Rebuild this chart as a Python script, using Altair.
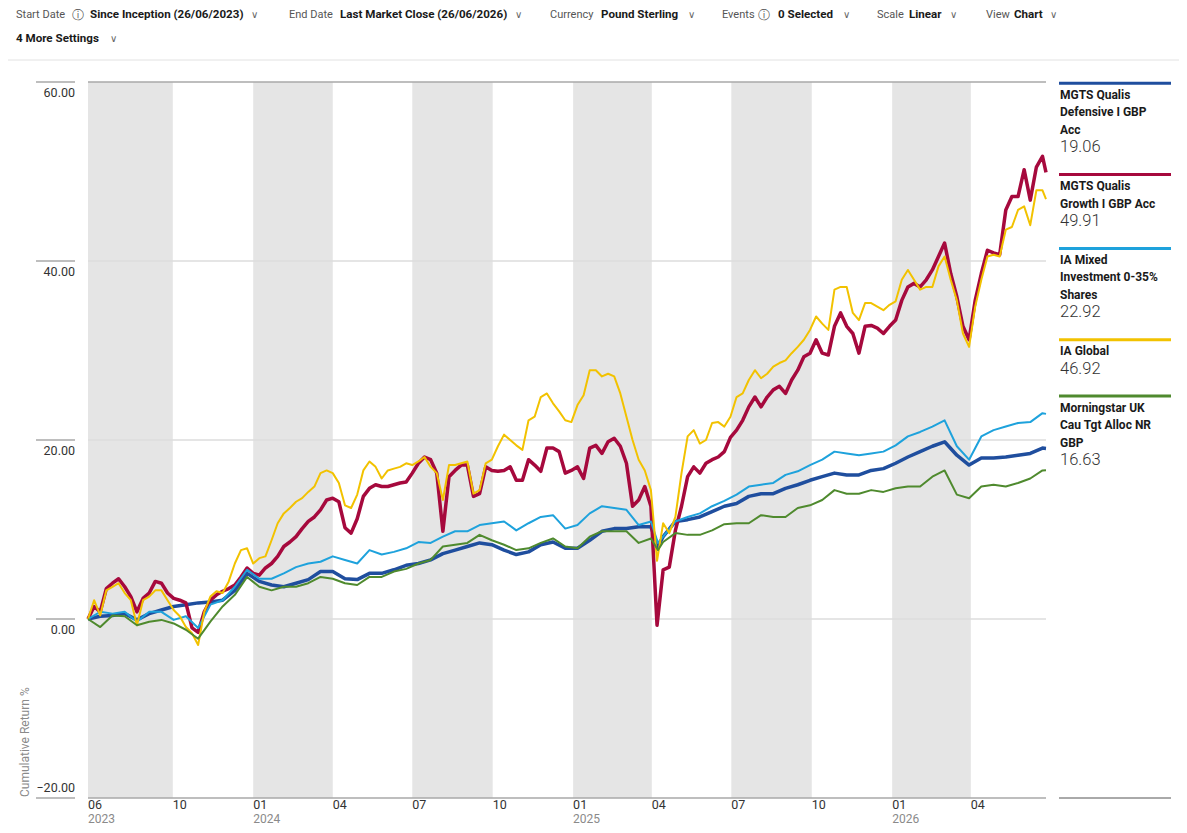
import altair as alt
import pandas as pd

# ---------------- data ----------------
SERIES = [
    "MGTS Qualis Defensive I GBP Acc",
    "MGTS Qualis Growth I GBP Acc",
    "IA Mixed Investment 0-35% Shares",
    "IA Global",
    "Morningstar UK Cau Tgt Alloc NR GBP",
]
LEGEND_LINES = [
    ["MGTS Qualis", "Defensive I GBP", "Acc"],
    ["MGTS Qualis", "Growth I GBP Acc"],
    ["IA Mixed", "Investment 0-35%", "Shares"],
    ["IA Global"],
    ["Morningstar UK", "Cau Tgt Alloc NR", "GBP"],
]
COLORS = ["#1f4e9e", "#a6093d", "#1ea2dc", "#f2c200", "#4f8a2e"]
WIDTHS = [3.5, 3.5, 2, 2, 2]

# fortnightly dates (+ the 8 Apr 2025 low and the last close)
b14 = pd.date_range("2023-06-26", periods=79, freq="14D")
DATES_2W = ([d.strftime("%Y-%m-%d") for d in b14[:47]] + ["2025-04-08"]
            + [d.strftime("%Y-%m-%d") for d in b14[47:]] + ["2026-06-26"])
# weekly dates (+ the last close)
b7 = pd.date_range("2023-06-26", periods=157, freq="7D")
DATES_1W = [d.strftime("%Y-%m-%d") for d in b7] + ["2026-06-26"]

DEFENSIVE = [0.0, 0.3, 0.4, 0.6, -0.1, 0.6, 1.0, 1.4, 1.6, 1.8,
             1.9, 2.1, 3.2, 5.1, 4.2, 3.8, 3.6, 4.0, 4.4, 5.3,
             5.3, 4.5, 4.4, 5.1, 5.1, 5.5, 6.0, 6.2, 6.6, 7.3,
             7.7, 8.1, 8.5, 8.3, 7.7, 7.2, 7.5, 8.3, 8.6, 7.9,
             7.9, 8.8, 9.8, 10.1, 10.1, 10.3, 10.3,
             8.1,
             9.2, 10.9, 11.1, 11.4, 12.0, 12.6, 12.9, 13.7, 14.0, 14.0,
             14.6, 15.0, 15.5, 15.9, 16.3, 16.1, 16.1, 16.6, 16.8, 17.4,
             18.1, 18.7, 19.3, 19.8, 18.3, 17.2, 18.0, 18.0, 18.1, 18.3, 18.5, 19.1,
             19.06]
GROWTH = [0.0, 1.4, 0.8, 3.4, 4.0, 4.5, 3.6, 2.5, 0.8, 2.3, 2.9, 4.2, 4.0, 2.9, 2.3, 2.1, 1.8, -1.0, -1.5, 0.8,
          2.1, 2.7, 3.1, 3.4, 3.8, 4.7, 5.7, 5.1, 4.9, 5.7, 6.2, 7.0, 8.1, 8.6, 9.2, 10.1, 10.9, 11.4, 12.2, 13.3,
          13.5, 13.1, 10.2, 9.6, 11.2, 13.7, 14.6, 15.0, 14.8, 14.8, 15.0, 15.2, 15.3, 16.3, 17.4, 18.1, 17.8, 16.3, 9.8, 15.9,
          16.6, 17.2, 17.2, 13.7, 14.0, 17.0, 16.6, 16.5, 16.6, 17.0, 15.5, 15.5, 17.8, 17.2, 16.5, 19.1, 19.1, 18.7, 16.3, 16.6,
          17.0, 15.7, 19.1, 19.4, 18.5, 19.8, 20.2, 19.3, 17.4, 12.6, 13.3, 14.8, 12.6, -0.7, 5.5, 5.8, 9.9, 12.6, 15.9, 17.0,
          16.3, 17.4, 17.8, 18.1, 18.7, 20.3, 21.1, 22.2, 23.7, 24.8, 23.7, 24.8, 25.6, 26.0, 25.2, 26.7, 27.8, 29.3, 29.7, 31.2,
          29.7, 29.5, 32.7, 34.2, 32.7, 31.9, 29.7, 32.7, 32.8, 32.5, 31.9, 32.7, 33.4, 35.6, 37.1, 37.5, 37.1, 37.9, 39.0, 40.5,
          42.0, 38.6, 36.0, 32.7, 31.2, 35.6, 38.6, 41.2, 40.9, 40.7, 45.7, 47.2, 47.2, 50.2, 46.8, 50.5, 51.7,
          49.91]
IA_MIXED = [0.0, 0.8, 0.6, 0.8, -0.3, 0.8, 0.8, -0.1, 0.3, -1.0,
            1.6, 2.1, 3.6, 5.5, 4.5, 4.5, 5.1, 5.8, 6.2, 6.4,
            7.0, 6.6, 6.2, 7.7, 7.2, 7.5, 7.9, 8.6, 8.5, 9.2,
            9.8, 9.8, 10.5, 10.7, 10.9, 9.9, 10.7, 11.4, 11.6, 10.1,
            10.5, 11.8, 12.6, 12.4, 12.2, 10.5, 10.9,
            8.5,
            9.2, 10.9, 11.4, 11.8, 12.6, 13.2, 13.9, 14.8, 15.0, 15.2,
            16.1, 16.5, 17.2, 17.8, 18.7, 18.5, 18.3, 18.5, 18.7, 19.4,
            20.4, 20.9, 21.5, 22.2, 19.3, 17.8, 20.4, 21.1, 21.5, 21.9, 22.0, 23.0,
            22.92]
IA_GLOBAL = [0.0, 2.1, 0.4, 3.2, 3.6, 4.0, 2.9, 2.1, -0.7, 2.1, 2.5, 3.2, 3.2, 2.1, 1.0, 0.3, -0.9, -1.6, -2.9, 0.8,
             2.5, 3.1, 2.9, 4.2, 6.2, 7.7, 7.9, 6.2, 6.8, 7.0, 8.8, 10.7, 11.8, 12.4, 13.1, 13.5, 14.2, 14.8, 16.3, 16.6,
             16.3, 15.2, 12.7, 12.4, 13.9, 16.6, 17.6, 17.0, 15.7, 16.6, 16.8, 17.0, 17.4, 17.2, 17.6, 18.1, 17.0, 16.3, 13.3, 17.2,
             17.2, 17.4, 17.6, 14.0, 14.4, 17.4, 17.8, 19.3, 20.6, 20.0, 19.4, 18.9, 22.2, 22.6, 24.8, 25.2, 24.1, 23.2, 22.2, 22.0,
             23.9, 25.0, 27.8, 27.8, 27.1, 27.4, 27.1, 25.2, 22.6, 20.0, 17.8, 16.6, 14.4, 6.5, 10.7, 9.6, 11.4, 16.3, 20.4, 21.1,
             19.6, 20.0, 21.9, 22.0, 21.5, 22.6, 24.8, 25.2, 26.7, 27.8, 26.9, 27.4, 28.2, 28.6, 28.9, 29.7, 30.4, 31.2, 32.3, 33.8,
             33.0, 32.3, 36.8, 37.1, 37.1, 34.2, 33.4, 35.3, 35.3, 34.9, 34.5, 35.1, 35.5, 37.9, 39.0, 37.9, 36.8, 37.1, 37.1, 39.4,
             40.5, 37.9, 35.6, 31.9, 30.4, 34.9, 37.9, 40.5, 40.7, 40.5, 43.5, 43.8, 45.7, 46.1, 44.0, 47.9, 47.9,
             46.92]
MORNINGSTAR = [0.0, -0.9, 0.4, 0.3, -0.7, -0.3, -0.1, -0.5, -1.2, -2.2,
               -0.3, 1.4, 2.7, 4.7, 3.6, 3.2, 3.6, 3.6, 4.0, 4.7,
               4.5, 4.0, 3.8, 4.7, 4.7, 5.3, 5.6, 6.2, 6.6, 8.1,
               8.3, 8.5, 9.4, 8.8, 8.3, 7.7, 7.9, 8.5, 9.0, 8.1,
               7.9, 9.2, 9.8, 9.8, 9.8, 8.5, 9.0,
               7.7,
               8.6, 9.6, 9.4, 9.4, 9.9, 10.6, 10.7, 10.7, 11.6, 11.4,
               11.4, 12.4, 12.7, 13.3, 14.4, 14.0, 14.0, 14.4, 14.2, 14.6,
               14.8, 14.8, 15.9, 16.6, 13.9, 13.5, 14.8, 15.0, 14.8, 15.2, 15.7, 16.6,
               16.63]
VALUES = [DEFENSIVE, GROWTH, IA_MIXED, IA_GLOBAL, MORNINGSTAR]
SERIES_DATES = [DATES_2W, DATES_1W, DATES_2W, DATES_1W, DATES_2W]
FINAL = ["19.06", "49.91", "22.92", "46.92", "16.63"]

BAND_START = ["2023-06-26", "2024-01-01", "2024-07-01", "2025-01-01", "2025-07-01", "2026-01-01"]
BAND_END = ["2023-10-01", "2024-04-01", "2024-10-01", "2025-04-01", "2025-10-01", "2026-04-01"]

XT_DATES = ["2023-06-26", "2023-10-01", "2024-01-01", "2024-04-01", "2024-07-01", "2024-10-01",
            "2025-01-01", "2025-04-01", "2025-07-01", "2025-10-01", "2026-01-01", "2026-04-01"]
XT_MONTH = ["06", "10", "01", "04", "07", "10", "01", "04", "07", "10", "01", "04"]
XT_YEAR = ["2023", "", "2024", "", "", "", "2025", "", "", "", "2026", ""]

Y_TICKS = [-20, 0, 20, 40, 60]
Y_TITLE = "Cumulative Return %"

HEADER_TEXT = ["Start Date", "ⓘ", "Since Inception (26/06/2023)", "∨",
               "End Date", "Last Market Close (26/06/2026)", "∨",
               "Currency", "Pound Sterling", "∨",
               "Events", "ⓘ", "0 Selected", "∨",
               "Scale", "Linear", "∨",
               "View", "Chart", "∨",
               "4 More Settings", "∨"]
HEADER_KIND = ["n", "i", "b", "c", "n", "b", "c", "n", "b", "c", "n", "i", "b", "c",
               "n", "b", "c", "n", "b", "c", "b", "c"]

# ---------------- layout ----------------
W, H = 958, 716
OX, OY = 88, 82          # plot origin on the page
FONT = "Roboto, sans-serif"
HEADER_X = [16, 72, 90, 251, 289, 340, 515, 550, 601, 688, 722, 758, 778, 843,
            877, 909, 950, 986, 1014, 1050, 16, 110]
HEADER_Y = [15] * 20 + [39, 39]

xscale = alt.Scale(domain=[alt.DateTime(year=2023, month=6, date=26, utc=True),
                           alt.DateTime(year=2026, month=6, date=26, utc=True)])
yscale = alt.Scale(domain=[-20, 60], nice=False, zero=False)

layers = []

# quarter bands
bands = pd.DataFrame({"s": BAND_START, "e": BAND_END})
layers.append(alt.Chart(bands).mark_rect(color="#e5e5e5").encode(
    x=alt.X("s:T", scale=xscale, axis=None), x2="e:T",
    y=alt.value(0), y2=alt.value(H)))

# grid lines
grid = pd.DataFrame({"v": [v for v in Y_TICKS if -20 < v < 60]})
layers.append(alt.Chart(grid).mark_rule(color="#dcdcdc", strokeWidth=1.5).encode(
    y=alt.Y("v:Q", scale=yscale, axis=None), x=alt.value(0), x2=alt.value(W)))
edges = pd.DataFrame({"v": [Y_TICKS[0], Y_TICKS[-1]]})
layers.append(alt.Chart(edges).mark_rule(color="#a8a8a8", strokeWidth=1.5).encode(
    y=alt.Y("v:Q", scale=yscale, axis=None), x=alt.value(0), x2=alt.value(W)))
ticks = pd.DataFrame({"v": Y_TICKS})
layers.append(alt.Chart(ticks).mark_rule(color="#a8a8a8", strokeWidth=1.5).encode(
    y=alt.Y("v:Q", scale=yscale, axis=None), x=alt.value(-52), x2=alt.value(-13)))

# y labels
ylab = pd.DataFrame({"v": Y_TICKS, "lab": [f"{v:.2f}".replace("-", "\u2212") for v in Y_TICKS]})
layers.append(alt.Chart(ylab[ylab.v > Y_TICKS[0]]).mark_text(
    align="right", baseline="middle", dy=11, font=FONT, fontSize=12.5, color="#333333").encode(
    y=alt.Y("v:Q", scale=yscale, axis=None), x=alt.value(-13), text="lab:N"))
layers.append(alt.Chart(ylab[ylab.v == Y_TICKS[0]]).mark_text(
    align="right", baseline="middle", dy=-10, font=FONT, fontSize=12.5, color="#333333").encode(
    y=alt.Y("v:Q", scale=yscale, axis=None), x=alt.value(-13), text="lab:N"))

# y title
layers.append(alt.Chart(pd.DataFrame({"t": [Y_TITLE]})).mark_text(
    angle=270, align="left", baseline="middle", font=FONT, fontSize=12, color="#8a8a8a").encode(
    x=alt.value(25 - OX), y=alt.value(797 - OY), text="t:N"))

# x labels
xt = pd.DataFrame({"d": XT_DATES, "m": XT_MONTH, "y": XT_YEAR})
layers.append(alt.Chart(xt).mark_text(align="left", baseline="middle", font=FONT, fontSize=12.5,
                                      color="#333333").encode(
    x=alt.X("d:T", scale=xscale, axis=None), y=alt.value(805 - OY), text="m:N"))
layers.append(alt.Chart(xt[xt.y != ""]).mark_text(align="left", baseline="middle", font=FONT,
                                                  fontSize=12, color="#8a8a8a").encode(
    x=alt.X("d:T", scale=xscale, axis=None), y=alt.value(819 - OY), text="y:N"))

# series lines
for name, vals, dts, col, w in zip(SERIES, VALUES, SERIES_DATES, COLORS, WIDTHS):
    df = pd.DataFrame({"date": dts, "value": vals, "series": name})
    layers.append(alt.Chart(df).mark_line(color=col, strokeWidth=w, strokeJoin="round").encode(
        x=alt.X("date:T", scale=xscale, axis=None),
        y=alt.Y("value:Q", scale=yscale, axis=None)))

# right-hand legend
bars, names, finals = [], [], []
yb = 83.3
for lines, col, fv in zip(LEGEND_LINES, COLORS, FINAL):
    bars.append({"c": col, "py": yb - OY})
    ly = yb + 11.5
    for ln in lines:
        names.append({"t": ln, "py": ly - OY})
        ly += 17.5
    finals.append({"t": fv, "py": ly - OY})
    yb = ly + 27.3
LX1, LX2 = 1059 - OX, 1171 - OX
layers.append(alt.Chart(pd.DataFrame(bars)).mark_rule(strokeWidth=3).encode(
    y=alt.Y("py:Q", scale=None, axis=None), x=alt.value(LX1), x2=alt.value(LX2),
    color=alt.Color("c:N", scale=None, legend=None)))
layers.append(alt.Chart(pd.DataFrame({"v": [Y_TICKS[0]]})).mark_rule(color="#555555", strokeWidth=1).encode(
    y=alt.Y("v:Q", scale=yscale, axis=None), x=alt.value(LX1), x2=alt.value(LX2)))
layers.append(alt.Chart(pd.DataFrame(names)).mark_text(
    align="left", baseline="middle", font=FONT, fontSize=12, fontWeight="bold", color="#1a1a1a").encode(
    y=alt.Y("py:Q", scale=None, axis=None), x=alt.value(LX1 + 1), text="t:N"))
layers.append(alt.Chart(pd.DataFrame(finals)).mark_text(
    align="left", baseline="middle", font=FONT, fontSize=16.5, fontWeight=300, color="#333333").encode(
    y=alt.Y("py:Q", scale=None, axis=None), x=alt.value(LX1 + 1), text="t:N"))

# header bar
hdr = pd.DataFrame({"t": HEADER_TEXT, "k": HEADER_KIND,
                    "px": [x - OX for x in HEADER_X], "py": [y - OY for y in HEADER_Y]})
styles = {"n": dict(fontWeight="normal", color="#555555", fontSize=11, font=FONT),
          "b": dict(fontWeight="bold", color="#1a1a1a", fontSize=11.6, font=FONT),
          "i": dict(fontWeight="normal", color="#555555", fontSize=12, font="DejaVu Sans"),
          "c": dict(fontWeight="normal", color="#666666", fontSize=10, font="DejaVu Sans")}
for k, st in styles.items():
    layers.append(alt.Chart(hdr[hdr.k == k]).mark_text(align="left", baseline="middle", **st).encode(
        x=alt.X("px:Q", scale=None, axis=None), y=alt.Y("py:Q", scale=None, axis=None), text="t:N"))
layers.append(alt.Chart(pd.DataFrame({"a": [0]})).mark_rule(color="#e2e2e2", strokeWidth=1).encode(
    y=alt.value(60 - OY), x=alt.value(-OX + 8), x2=alt.value(1187 - OX - 8)))

chart = alt.layer(*layers).properties(
    width=W, height=H,
    autosize=alt.AutoSizeParams(type="none"),
    padding={"left": OX - 8, "top": OY - 8, "right": 1171 - (OX - 8) - W, "bottom": 817 - (OY - 8) - H},
    background="white",
).configure_view(stroke=None)

chart.save("out.html", embed_options={"renderer": "svg", "actions": False})
